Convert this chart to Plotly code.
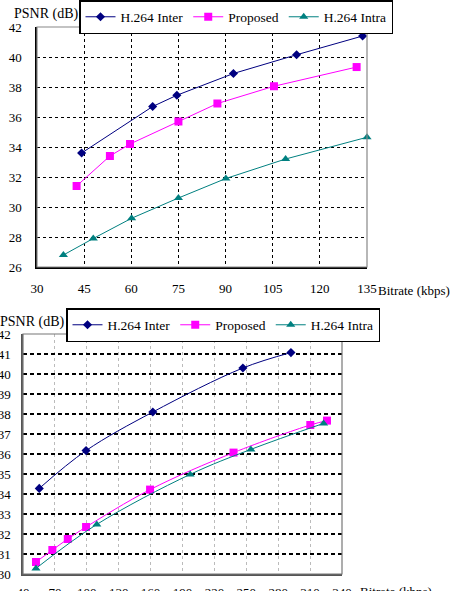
import plotly.graph_objects as go

# ---------------- data ----------------
series_names = ["H.264 Inter", "Proposed", "H.264 Intra"]

top_rate_inter = [44.2, 66.8, 74.5, 92.5, 112.6, 133.6]
top_psnr_inter = [33.6, 36.7, 37.45, 38.9, 40.15, 41.4]
top_rate_prop = [42.6, 53.2, 59.6, 75.0, 87.4, 105.4, 131.7]
top_psnr_prop = [31.4, 33.4, 34.2, 35.7, 36.9, 38.05, 39.33]
top_rate_intra = [38.4, 47.9, 60.1, 75.0, 90.1, 109.1, 135.0]
top_psnr_intra = [26.8, 27.9, 29.25, 30.6, 31.9, 33.2, 34.65]

bot_rate_inter = [55.3, 99.3, 162.1, 246.8, 292.0]
bot_psnr_inter = [34.28, 36.17, 38.1, 40.3, 41.07]
bot_rate_prop = [52.2, 67.6, 82.1, 99.3, 159.5, 238.0, 310.2, 325.9]
bot_psnr_prop = [30.6, 31.2, 31.75, 32.35, 34.22, 36.07, 37.45, 37.67]
bot_rate_intra = [52.2, 109.4, 197.2, 254.3, 322.7]
bot_psnr_intra = [30.28, 32.48, 34.98, 36.23, 37.53]

top_xticks = [30, 45, 60, 75, 90, 105, 120, 135]
top_yticks = [26, 28, 30, 32, 34, 36, 38, 40, 42]
bot_xticks = [40, 70, 100, 130, 160, 190, 220, 250, 280, 310, 340]
bot_yticks = list(range(30, 43))

colors = ["#000080", "#FF00FF", "#008080"]
symbols = ["diamond", "square", "triangle-up"]
msizes = [7, 8, 8]

FONT = "Liberation Serif"

fig = go.Figure()

top_data = [(top_rate_inter, top_psnr_inter), (top_rate_prop, top_psnr_prop),
            (top_rate_intra, top_psnr_intra)]
bot_data = [(bot_rate_inter, bot_psnr_inter), (bot_rate_prop, bot_psnr_prop),
            (bot_rate_intra, bot_psnr_intra)]

for i, (xs, ys) in enumerate(top_data):
    fig.add_trace(go.Scatter(
        x=xs, y=ys, name=series_names[i], mode="lines+markers",
        line=dict(color=colors[i], width=1),
        marker=dict(symbol=symbols[i], size=msizes[i], color=colors[i]),
        xaxis="x", yaxis="y", legend="legend", cliponaxis=False))

for i, (xs, ys) in enumerate(bot_data):
    fig.add_trace(go.Scatter(
        x=xs, y=ys, name=series_names[i], mode="lines+markers",
        line=dict(color=colors[i], width=1, shape="spline", smoothing=1.0),
        marker=dict(symbol=symbols[i], size=msizes[i], color=colors[i]),
        xaxis="x2", yaxis="y2", legend="legend2", cliponaxis=False))

W, H = 455, 591
def px_x(p):
    return p / W
def px_y(p):
    return 1 - p / H

tickfont = dict(family=FONT, size=13, color="black")

fig.update_layout(
    width=W, height=H,
    margin=dict(l=0, r=0, t=0, b=0, pad=0, autoexpand=False),
    paper_bgcolor="white", plot_bgcolor="white",
    font=dict(family=FONT, size=13, color="black"),
    xaxis=dict(domain=[px_x(37), px_x(367)], range=[30, 135], tickvals=top_xticks,
               showgrid=True, gridcolor="black", griddash="3px,3px", gridwidth=1.3,
               showline=True, linecolor="black", linewidth=1.5, zeroline=False,
               ticks="", tickfont=tickfont, ticklabelstandoff=9, anchor="y",
               automargin=False),
    yaxis=dict(domain=[px_y(267), px_y(27)], range=[26, 42], tickvals=top_yticks,
               showgrid=True, gridcolor="black", griddash="3px,3px", gridwidth=1.3,
               showline=True, linecolor="black", linewidth=1.5, zeroline=False,
               ticks="", tickfont=tickfont, ticklabelstandoff=11, anchor="x",
               automargin=False),
    xaxis2=dict(domain=[px_x(23), px_x(342)], range=[40, 340], tickvals=bot_xticks,
                showgrid=True, gridcolor="#bbbbbb", griddash="3px,3px", gridwidth=1,
                showline=True, linecolor="#555555", linewidth=1.5, zeroline=False,
                ticks="", tickfont=tickfont, ticklabelstandoff=6, anchor="y2",
                automargin=False),
    yaxis2=dict(domain=[px_y(574), px_y(334)], range=[30, 42], tickvals=bot_yticks,
                showgrid=True, gridcolor="black", griddash="4px,3px", gridwidth=1.5,
                showline=True, linecolor="#555555", linewidth=1.5, zeroline=False,
                ticks="", tickfont=tickfont, ticklabelstandoff=8, anchor="x2",
                automargin=False),
    legend=dict(orientation="h", x=px_x(79), y=px_y(0), xanchor="left", yanchor="top",
                bordercolor="black", borderwidth=1.5, bgcolor="white",
                font=dict(family=FONT, size=13.5, color="black"),
                itemwidth=30, tracegroupgap=0),
    legend2=dict(orientation="h", x=px_x(66), y=px_y(308), xanchor="left", yanchor="top",
                 bordercolor="black", borderwidth=1.5, bgcolor="white",
                 font=dict(family=FONT, size=13.5, color="black"),
                 itemwidth=30, tracegroupgap=0),
    shapes=[
        dict(type="rect", xref="x domain", yref="y domain", x0=0, x1=1, y0=0, y1=1,
             line=dict(color="#888888", width=1.2), layer="above"),
        dict(type="rect", xref="x2 domain", yref="y2 domain", x0=0, x1=1, y0=0, y1=1,
             line=dict(color="#777777", width=1.2), layer="above"),
    ],
    annotations=[
        dict(text="PSNR (dB)", xref="paper", yref="paper", x=px_x(12), y=px_y(14),
             xanchor="left", yanchor="middle", showarrow=False,
             font=dict(family=FONT, size=14, color="black")),
        dict(text="Bitrate (kbps)", xref="paper", yref="paper", x=px_x(376), y=px_y(290),
             xanchor="left", yanchor="middle", showarrow=False,
             font=dict(family=FONT, size=13, color="black")),
        dict(text="PSNR (dB)", xref="paper", yref="paper", x=px_x(-2), y=px_y(322),
             xanchor="left", yanchor="middle", showarrow=False,
             font=dict(family=FONT, size=14, color="black")),
        dict(text="Bitrate (kbps)", xref="paper", yref="paper", x=px_x(358), y=px_y(591),
             xanchor="left", yanchor="middle", showarrow=False,
             font=dict(family=FONT, size=13, color="black")),
    ],
)

fig.write_html("out.html")
